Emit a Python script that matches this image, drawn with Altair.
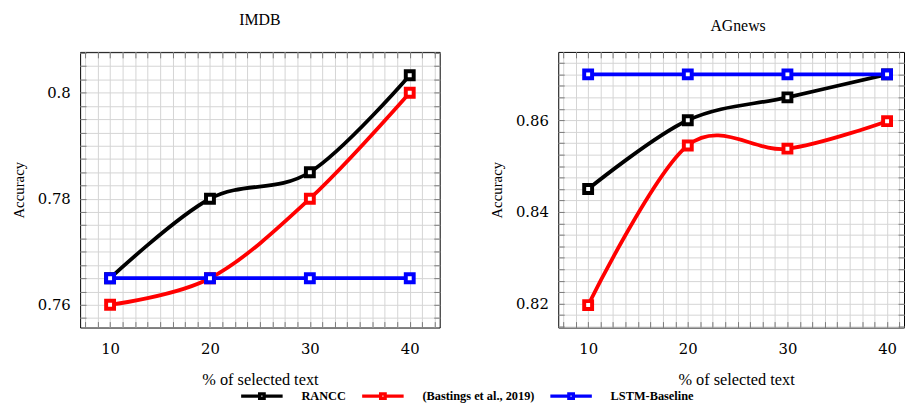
import altair as alt
import pandas as pd

x_vals = [10, 20, 30, 40]
methods = ["RANCC", "(Bastings et al., 2019)", "LSTM-Baseline"]
colors = ["#000000", "#ff0000", "#0000ff"]

imdb_rancc = [0.765, 0.780, 0.785, 0.8033]
imdb_bastings = [0.760, 0.765, 0.780, 0.800]
imdb_lstm = [0.765, 0.765, 0.765, 0.765]

ag_rancc = [0.845, 0.860, 0.865, 0.870]
ag_bastings = [0.8197, 0.8545, 0.8538, 0.8598]
ag_lstm = [0.870, 0.870, 0.870, 0.870]

x_grid = [7.5 + 1.25 * i for i in range(29)]
imdb_y_grid = [round(0.7575 + 0.0025 * i, 4) for i in range(21)]
ag_y_grid = [round(0.815 + 0.0025 * i, 4) for i in range(24)]


def make_df(series):
    rows = []
    for m, vals in zip(methods, series):
        for x, y in zip(x_vals, vals):
            rows.append({"method": m, "x": x, "y": y})
    return pd.DataFrame(rows)


PATH = "M-4.2,0H-0.45M0.45,0H4.2M-0.45,-0.45H0.45V0.45H-0.45Z"
TICK = "#7a7a7a"


def tick_axis(values, orient):
    return alt.Axis(
        values=values, orient=orient, offset=-6, tickSize=6, ticks=True,
        tickColor=TICK, tickWidth=1, labels=False, grid=False, domain=False, title=None,
    )


def panel(df, title, ydom, ygrid, xmax, width, show_legend, title_dx, xtitle_x):
    xg = [v for v in x_grid if v < xmax]
    xscale = alt.Scale(domain=[7, xmax], nice=False, zero=False)
    yscale = alt.Scale(domain=ydom, nice=False, zero=False)
    xaxis_kw = dict(
        values=xg,
        labelExpr="datum.value % 10 == 0 ? datum.value : ''",
        title="% of selected text",
        titlePadding=16,
        labelPadding=14,
    )
    if xtitle_x is not None:
        xaxis_kw["titleX"] = xtitle_x
    xenc = alt.X("x:Q", scale=xscale, axis=alt.Axis(**xaxis_kw))
    yenc = alt.Y(
        "y:Q",
        scale=yscale,
        axis=alt.Axis(
            values=ygrid,
            labelExpr="abs(datum.value*50 - round(datum.value*50)) < 0.001 ? format(datum.value, '.2~f') : ''",
            title="Accuracy",
            titlePadding=11,
            labelPadding=10,
        ),
    )
    if show_legend:
        leg = alt.Legend(
            orient="none",
            legendX=177,
            legendY=341,
            direction="horizontal",
            title=None,
            symbolType=PATH,
            symbolSize=100,
            symbolStrokeWidth=3.4,
            symbolFillColor="white",
            labelFont="Liberation Serif",
            labelFontWeight="bold",
            labelFontSize=12.5,
            labelColor="black",
            labelOffset=33,
            columnPadding=8.5,
            padding=0,
        )
    else:
        leg = None
    cscale = alt.Scale(domain=methods, range=colors)
    cenc = alt.Color("method:N", scale=cscale, sort=methods, legend=leg)
    base = alt.Chart(df)
    lines = base.mark_line(interpolate="cardinal", strokeWidth=3.8).encode(
        x=xenc, y=yenc, color=cenc, order=alt.Order("x:Q")
    )
    pts = base.mark_point(
        shape="square", filled=False, fill="white", size=64, strokeWidth=4, opacity=1
    ).encode(
        x=alt.X("x:Q", scale=xscale, axis=tick_axis(xg, "bottom")),
        y=alt.Y("y:Q", scale=yscale, axis=tick_axis(ygrid, "left")),
        color=alt.Color("method:N", scale=cscale, legend=None),
    )
    ghost = base.mark_point(opacity=0).encode(
        x=alt.X("x:Q", scale=xscale, axis=tick_axis(xg, "top")),
        y=alt.Y("y:Q", scale=yscale, axis=tick_axis(ygrid, "right")),
    )
    return (
        alt.layer(lines, pts, ghost)
        .resolve_axis(x="independent", y="independent")
        .properties(
            width=width,
            height=279,
            title=alt.Title(
                title,
                font="Liberation Serif",
                fontSize=16,
                fontWeight="normal",
                color="black",
                offset=18,
                frame="group",
                dx=title_dx,
            ),
        )
    )


left = panel(make_df([imdb_rancc, imdb_bastings, imdb_lstm]), "IMDB",
             [0.7557, 0.8077], imdb_y_grid, 43, 364, True, 0, None)
right = panel(make_df([ag_rancc, ag_bastings, ag_lstm]), "AGnews",
              [0.8148, 0.8749], ag_y_grid, 41.7, 350, False, 7, 180)

chart = (
    alt.hconcat(left, right, spacing=49)
    .resolve_scale(x="independent", y="independent", color="shared")
    .properties(padding={"left": 3, "top": 1, "right": 0, "bottom": 0})
    .configure_view(stroke="black", strokeWidth=1)
    .configure_axis(
        grid=True,
        gridColor="#d4d4d4",
        gridWidth=1,
        ticks=False,
        domain=False,
        labelFont="DejaVu Serif",
        labelFontSize=15,
        labelColor="black",
        titleFont="Liberation Serif",
        titleFontSize=16.5,
        titleFontWeight="normal",
        titleColor="black",
        labelOverlap=False,
    )
    .configure_axisY(titleFontSize=15)
)

chart.save("out.html", embed_options={"renderer": "svg", "actions": False})
